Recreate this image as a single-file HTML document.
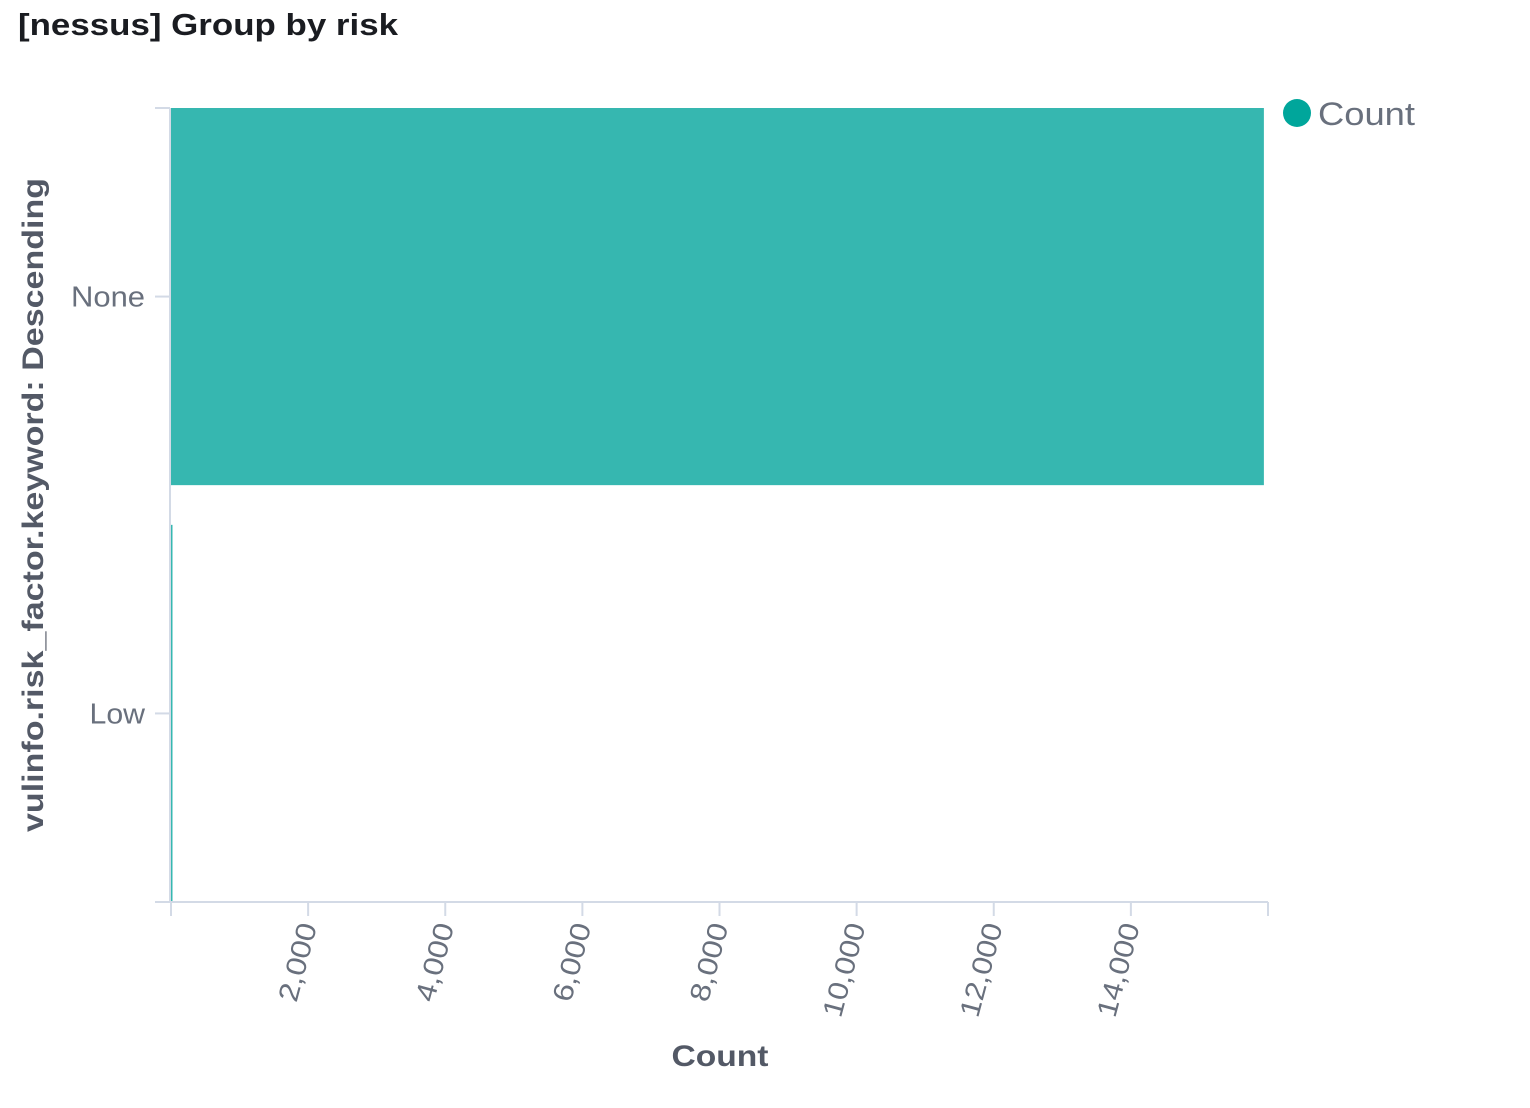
<!DOCTYPE html>
<html><head><meta charset="utf-8">
<style>
html,body{margin:0;padding:0;background:#fff;width:1530px;height:1108px;overflow:hidden;font-family:"Liberation Sans",sans-serif;}
</style></head>
<body>
<svg id="chart" width="1530" height="1108" xmlns="http://www.w3.org/2000/svg">
<text x="18" y="35" font-size="31" font-weight="bold" fill="#1a1c21" textLength="380" lengthAdjust="spacingAndGlyphs">[nessus] Group by risk</text>
<text transform="translate(43,505) rotate(-90)" text-anchor="middle" font-size="30" font-weight="bold" fill="#535966" textLength="654" lengthAdjust="spacingAndGlyphs">vulinfo.risk_factor.keyword: Descending</text>
<text x="720" y="1066" text-anchor="middle" font-size="30" font-weight="bold" fill="#535966" textLength="97" lengthAdjust="spacingAndGlyphs">Count</text>
<g>
<circle cx="1297" cy="113" r="14" fill="#00a69b"/>
<text x="1318" y="125" font-size="32" fill="#69707d" textLength="97" lengthAdjust="spacingAndGlyphs">Count</text>
</g>
<g id="plot"></g>
</svg>
<script>
const categories = ["None", "Low"];
const values = [15940, 20];
const xTicks = [2000, 4000, 6000, 8000, 10000, 12000, 14000];
const xTickLabels = ["2,000", "4,000", "6,000", "8,000", "10,000", "12,000", "14,000"];
const xMax = 16000;

const X0 = 171, X1 = 1268, Y0 = 108, Y1 = 902;
const NS = "http://www.w3.org/2000/svg";
const g = document.getElementById('plot');
function x(v){ return X0 + (v / xMax) * (X1 - X0); }
const band = (Y1 - Y0) / categories.length;
function y(i){ return Y0 + i * band; }
function el(tag, attrs){ const e = document.createElementNS(NS, tag); for (const k in attrs) e.setAttribute(k, attrs[k]); g.appendChild(e); return e; }

categories.forEach((c, i) => {
  const top = y(i) + (i === 0 ? 0 : band * 0.05);
  const h = band * 0.95;
  const r = el('rect', {x: X0, y: top, width: Math.max(1.5, x(values[i]) - X0), height: h, fill: '#36b7b0'});
  
  
  const cy = top + h / 2;
  const t = el('line', {x1: 155, x2: 169, y1: cy, y2: cy, stroke: '#d3dae6', 'stroke-width': 2});
  
  
  const lb = el('text', {x: 145, y: cy + 10, 'text-anchor': 'end', 'font-size': 29, fill: '#69707d', textLength: c.length * 18.5, lengthAdjust: 'spacingAndGlyphs'});
  lb.textContent = c;
  
  
});
const ya = el('line', {x1: 170, x2: 170, y1: Y0, y2: Y1, stroke: '#d3dae6', 'stroke-width': 2});


[Y0, Y1].forEach(yy => {
  const t = el('line', {x1: 155, x2: 170, y1: yy, y2: yy, stroke: '#d3dae6', 'stroke-width': 2});
  
  
});
const xa = el('line', {x1: 155, x2: X1, y1: Y1, y2: Y1, stroke: '#d3dae6', 'stroke-width': 2});


[0].concat(xTicks, [xMax]).forEach(v => {
  const t = el('line', {x1: x(v), x2: x(v), y1: Y1, y2: Y1 + 14, stroke: '#d3dae6', 'stroke-width': 2});
  
  
});
xTicks.forEach((v, i) => {
  const tx = x(v) + 9, ty = Y1 + 24;
  const lb = el('text', {x: tx, y: ty, 'text-anchor': 'end', 'font-size': 28, fill: '#69707d', transform: `rotate(-75 ${tx} ${ty})`, textLength: xTickLabels[i].length * 16, lengthAdjust: 'spacingAndGlyphs'});
  lb.textContent = xTickLabels[i];
  
  
});
</script>
</body></html>
